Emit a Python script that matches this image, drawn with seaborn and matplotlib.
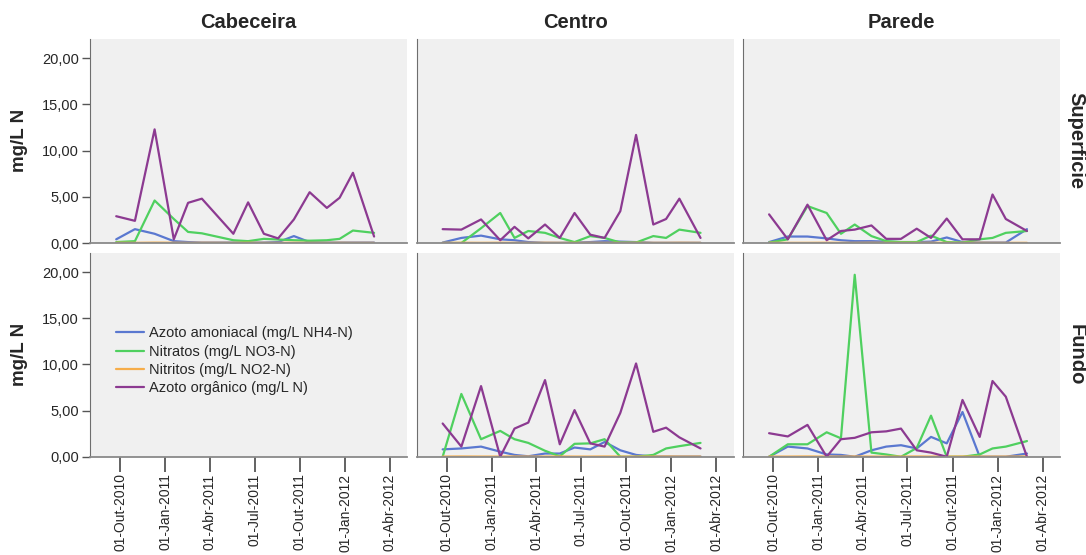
import numpy as np
import pandas as pd
import seaborn as sns
import matplotlib.pyplot as plt
import matplotlib.dates as mdates
from matplotlib.lines import Line2D
from matplotlib.ticker import FuncFormatter

nan = np.nan

# datas de amostragem
dates = ['2010-09-23', '2010-10-31', '2010-12-10', '2011-01-18', '2011-02-16',
         '2011-03-16', '2011-04-19', '2011-05-19', '2011-06-18', '2011-07-20',
         '2011-08-18', '2011-09-19', '2011-10-21', '2011-11-25', '2011-12-21',
         '2012-01-17', '2012-02-29']

locais = ['Cabeceira', 'Centro', 'Parede']
profundidades = ['Superficie', 'Fundo']
parametros = ['Azoto amoniacal (mg/L NH4-N)', 'Nitratos (mg/L NO3-N)',
              'Nitritos (mg/L NO2-N)', 'Azoto orgânico (mg/L N)']
cores = ['#5a78d0', '#4fd05f', '#f6ad4a', '#8c3a91']

tick_dates = ['2010-10-01', '2011-01-01', '2011-04-01', '2011-07-01',
              '2011-10-01', '2012-01-01', '2012-04-01']
tick_labels = ['01-Out-2010', '01-Jan-2011', '01-Abr-2011', '01-Jul-2011',
               '01-Out-2011', '01-Jan-2012', '01-Abr-2012']

# Cabeceira - Superficie
cab_sup_amon = [0.4, 1.5, 1.0, 0.2, 0.1, 0.05, nan, 0.05, 0.05, 0.05, 0.1, 0.75, 0.1, 0.05, 0.05, 0.05, 0.05]
cab_sup_nitr = [0.1, 0.2, 4.6, 2.6, 1.2, 1.05, nan, 0.3, 0.2, 0.45, 0.38, 0.3, 0.25, 0.3, 0.45, 1.35, 1.1]
cab_sup_nitri = [0.03, 0.02, 0.04, 0.03, 0.02, 0.03, nan, 0.02, 0.03, 0.02, 0.02, 0.03, 0.02, 0.02, 0.03, 0.02, 0.02]
cab_sup_org = [2.9, 2.4, 12.3, 0.4, 4.35, 4.8, nan, 1.0, 4.4, 1.0, 0.5, 2.55, 5.5, 3.8, 4.9, 7.6, 0.7]

# Centro - Superficie
cen_sup_amon = [0.05, 0.55, 0.8, 0.4, 0.3, 0.1, 0.02, 0.02, 0.05, 0.1, 0.2, 0.15, 0.1, 0.02, 0.02, 0.02, 0.02]
cen_sup_nitr = [0.0, 0.0, 1.6, 3.25, 0.55, 1.3, 1.1, 0.55, 0.1, 0.75, 0.55, 0.05, 0.05, 0.75, 0.55, 1.45, 1.1]
cen_sup_nitri = [0.02, 0.03, 0.02, 0.03, 0.02, 0.02, 0.03, 0.02, 0.02, 0.03, 0.02, 0.02, 0.03, 0.02, 0.02, 0.03, 0.02]
cen_sup_org = [1.5, 1.45, 2.55, 0.3, 1.75, 0.5, 2.0, 0.55, 3.25, 0.9, 0.55, 3.45, 11.7, 2.0, 2.6, 4.8, 0.55]

# Parede - Superficie
par_sup_amon = [0.1, 0.7, 0.7, 0.5, 0.3, 0.2, 0.2, 0.15, 0.1, 0.1, 0.15, 0.6, 0.1, 0.05, 0.05, 0.05, 1.5]
par_sup_nitr = [0.05, 0.4, 4.0, 3.25, 1.0, 2.0, 0.75, 0.2, 0.1, 0.1, 0.8, 0.1, 0.05, 0.4, 0.55, 1.1, 1.3]
par_sup_nitri = [0.03, 0.02, 0.02, 0.03, 0.02, 0.02, 0.03, 0.02, 0.02, 0.02, 0.03, 0.02, 0.02, 0.03, 0.02, 0.02, 0.02]
par_sup_org = [3.1, 0.4, 4.15, 0.3, 1.3, 1.45, 1.9, 0.45, 0.45, 1.55, 0.55, 2.65, 0.4, 0.4, 5.25, 2.6, 1.3]

# Centro - Fundo
cen_fun_amon = [0.8, 0.9, 1.1, 0.55, 0.2, 0.05, 0.35, 0.35, 1.0, 0.8, 1.6, 0.7, 0.2, 0.02, 0.02, 0.02, 0.02]
cen_fun_nitr = [0.0, 6.8, 1.9, 2.8, 1.9, 1.5, 0.65, 0.05, 1.4, 1.45, 1.9, 0.0, 0.0, 0.2, 0.9, 1.15, 1.5]
cen_fun_nitri = [0.02, 0.03, 0.02, 0.02, 0.03, 0.02, 0.02, 0.03, 0.02, 0.02, 0.03, 0.02, 0.02, 0.02, 0.03, 0.02, 0.02]
cen_fun_org = [3.6, 1.1, 7.65, 0.0, 3.05, 3.7, 8.3, 1.35, 5.05, 1.45, 1.1, 4.75, 10.1, 2.7, 3.15, 2.1, 0.9]

# Parede - Fundo
par_fun_amon = [0.0, 1.1, 0.9, 0.25, 0.2, 0.0, 0.7, 1.1, 1.25, 0.9, 2.15, 1.45, 4.85, 0.0, 0.0, 0.0, 0.35]
par_fun_nitr = [0.0, 1.35, 1.35, 2.65, 2.0, 19.7, 0.45, 0.25, 0.0, 0.95, 4.45, 0.0, 0.0, 0.25, 0.9, 1.1, 1.7]
par_fun_nitri = [0.02, 0.02, 0.03, 0.02, 0.02, 0.03, 0.02, 0.02, 0.02, 0.03, 0.02, 0.02, 0.03, 0.02, 0.02, 0.02, 0.03]
par_fun_org = [2.55, 2.2, 3.45, 0.0, 1.9, 2.05, 2.65, 2.75, 3.05, 0.7, 0.45, 0.0, 6.15, 2.15, 8.2, 6.5, 0.0]

series = {
    ('Cabeceira', 'Superficie'): [cab_sup_amon, cab_sup_nitr, cab_sup_nitri, cab_sup_org],
    ('Centro', 'Superficie'): [cen_sup_amon, cen_sup_nitr, cen_sup_nitri, cen_sup_org],
    ('Parede', 'Superficie'): [par_sup_amon, par_sup_nitr, par_sup_nitri, par_sup_org],
    ('Centro', 'Fundo'): [cen_fun_amon, cen_fun_nitr, cen_fun_nitri, cen_fun_org],
    ('Parede', 'Fundo'): [par_fun_amon, par_fun_nitr, par_fun_nitri, par_fun_org],
}

rows = []
for (local, prof), vals in series.items():
    for par, v in zip(parametros, vals):
        for d, y in zip(dates, v):
            rows.append({'data': pd.Timestamp(d), 'valor': y, 'parametro': par,
                         'local': local, 'prof': prof})
df = pd.DataFrame(rows).dropna()

sns.set_style('ticks', {'axes.facecolor': '#f0f0f0', 'axes.edgecolor': '#777777'})
plt.rcParams['font.family'] = ['Liberation Sans', 'DejaVu Sans']

g = sns.relplot(data=df, x='data', y='valor', hue='parametro', hue_order=parametros,
                palette=cores, row='prof', col='local', row_order=profundidades,
                col_order=locais, kind='line', errorbar=None, legend=False,
                linewidth=1.6, height=2.5, aspect=1.5,
                facet_kws=dict(margin_titles=True, sharex=True, sharey=True))

g.figure.set_size_inches(10.86, 5.55)
g.figure.subplots_adjust(left=0.083, right=0.976, top=0.93, bottom=0.177,
                         wspace=0.03, hspace=0.047)

g.set_titles(col_template='{col_name}', row_template='{row_name}',
             fontweight='bold', size=14.5)
g.set_axis_labels('', 'mg/L N', fontweight='bold', fontsize=13.5)

fmt = FuncFormatter(lambda v, p: f'{v:.2f}'.replace('.', ','))
for i, ax in enumerate(g.axes.flat):
    r, c = divmod(i, 3)
    ax.set_ylim(0, 22.1)
    ax.set_xlim(pd.Timestamp('2010-08-01'), pd.Timestamp('2012-05-06'))
    ax.set_yticks([0, 5, 10, 15, 20])
    ax.yaxis.set_major_formatter(fmt)
    ax.set_xticks([pd.Timestamp(t) for t in tick_dates])
    ax.spines['left'].set_color('#6e6e6e')
    ax.spines['bottom'].set_color('#8a8a8a')
    ax.spines['bottom'].set_linewidth(1.3)
    ax.tick_params(axis='y', length=6, width=1, color='#555555', labelsize=10.5, pad=2)
    ax.tick_params(axis='x', length=11, width=1.3, color='#555555', labelsize=10, pad=1)
    if r == 0:
        ax.tick_params(axis='x', length=0)
        ax.set_title(ax.get_title(), fontweight='bold', size=14.5, pad=8)
    else:
        ax.set_xticklabels(tick_labels, rotation=90)
    if c > 0:
        ax.tick_params(axis='y', length=0)
    else:
        ax.yaxis.labelpad = 10
    ax.set_xlabel('')

# legenda no painel vazio
ax_leg = g.axes[1, 0]
handles = [Line2D([0], [0], color=c, lw=1.6) for c in cores]
ax_leg.legend(handles, parametros, loc='center left', bbox_to_anchor=(0.04, 0.47),
              frameon=False, fontsize=10.5, handlelength=1.9, labelspacing=0.3,
              handletextpad=0.4)

plt.savefig('out.png', dpi=100)
